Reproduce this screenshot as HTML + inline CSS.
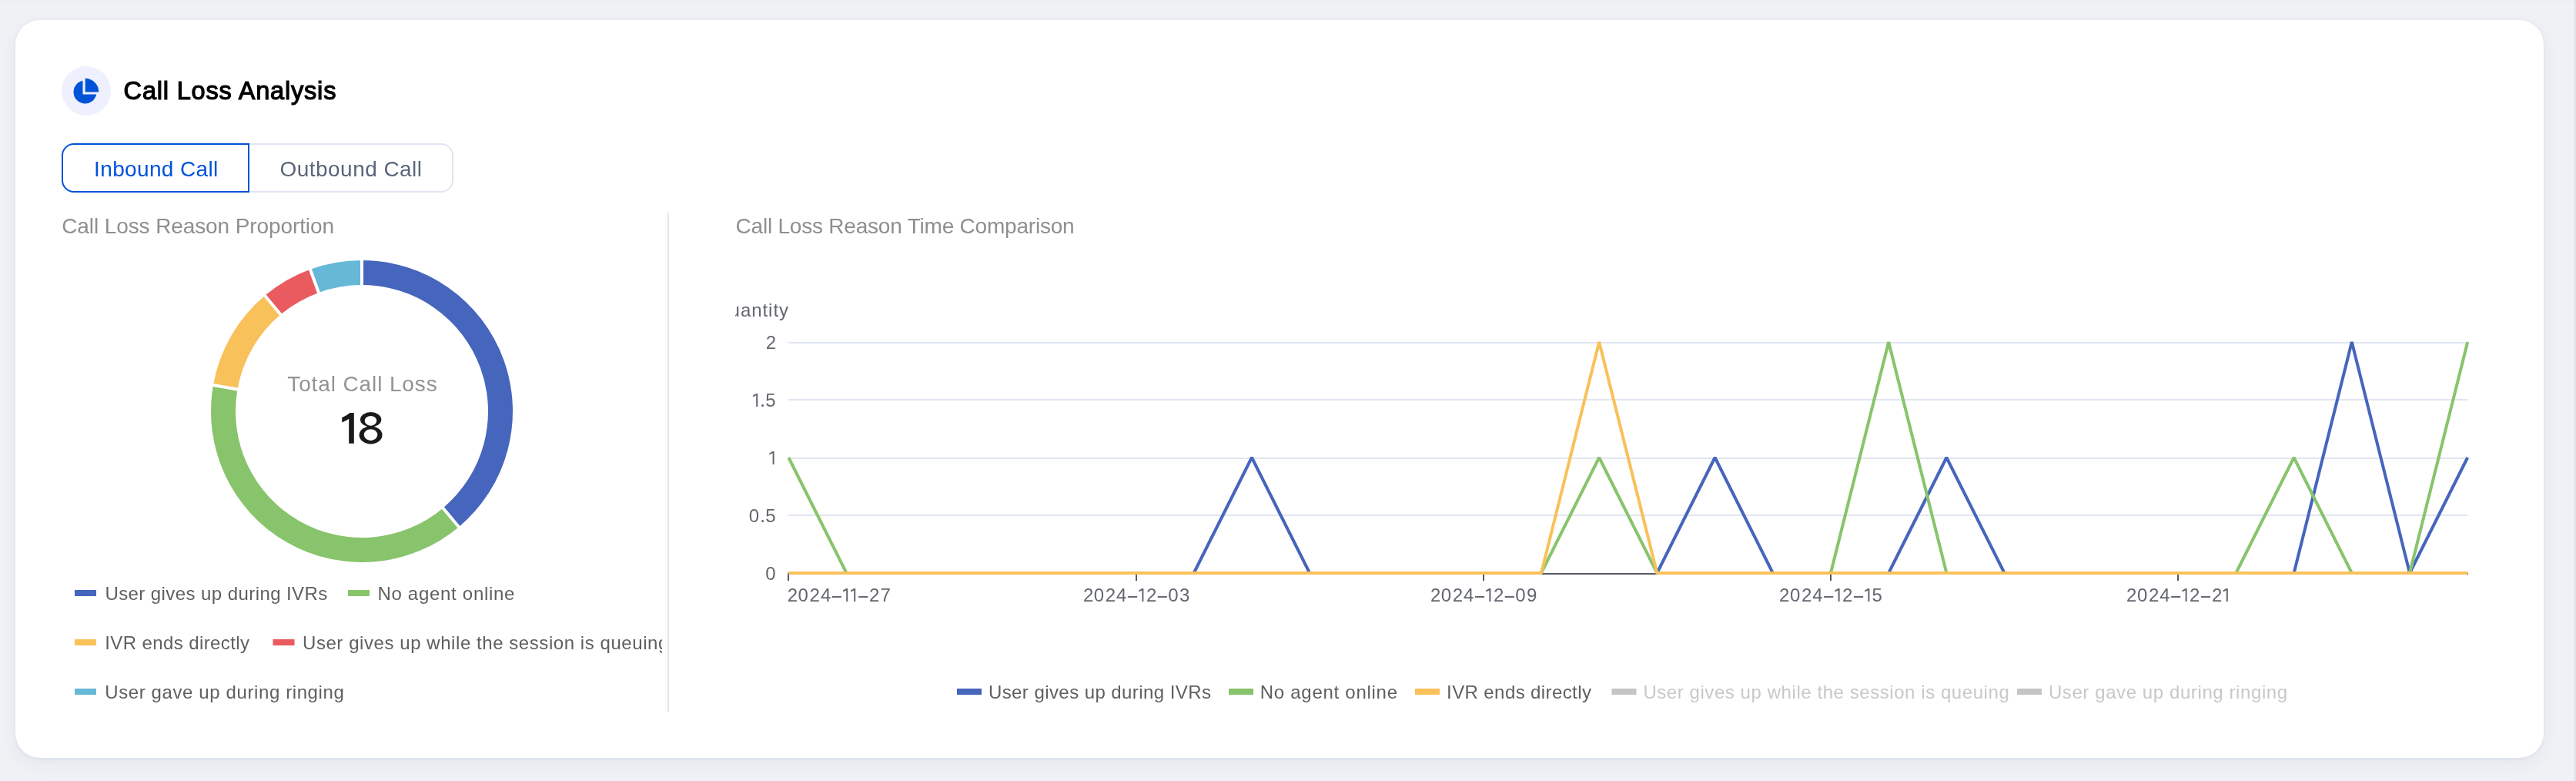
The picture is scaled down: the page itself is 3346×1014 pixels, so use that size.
<!DOCTYPE html>
<html><head><meta charset="utf-8"><title>Call Loss Analysis</title>
<style>
html,body{margin:0;padding:0;overflow:hidden;}
body{width:3346px;height:1014px;background:#eff1f5;position:relative;overflow:hidden;font-family:"Liberation Sans",sans-serif;}
.card{position:absolute;left:20px;top:26px;width:3284px;height:958px;background:#fff;border-radius:32px;box-shadow:0 1px 5px rgba(40,60,170,0.07),0 8px 24px rgba(30,50,120,0.05);}
.topband{position:absolute;left:0;top:0;width:3344px;height:2px;background:#edeff3;border-bottom:2px solid #eef0f4;}
.edge{position:absolute;left:3344px;top:0;width:2px;height:1014px;background:#dbe2ec;}
.tab{position:absolute;top:186px;height:64px;box-sizing:border-box;}
.tab1{left:80px;width:244px;border:2px solid #0052d9;border-radius:16px 0 0 16px;z-index:2;}
.tab2{left:322px;width:267px;border:2px solid #dfe5f1;border-radius:0 16px 16px 0;}
svg.main{position:absolute;left:0;top:0;will-change:transform;}
</style></head>
<body>
<div class="card"></div>
<div class="edge"></div>
<div class="topband"></div>
<div class="tab tab2"></div>
<div class="tab tab1"></div>
<svg class="main" width="3346" height="1014" viewBox="0 0 3346 1014" font-family="Liberation Sans, sans-serif">
<circle cx="112" cy="118" r="32" fill="#eef0fd"/>
<path d="M107.5,104.8 A15,15 0 1,0 125.2,122.5 L107.5,122.5 Z" fill="#0052d9"/>
<path d="M110.7,119.4 L110.7,101.8 A17.6,17.6 0 0,1 128.3,119.4 Z" fill="#0052d9"/>
<text x="160.60" y="129" font-size="32.5" fill="#000" textLength="275.82" lengthAdjust="spacing" stroke="#000" stroke-width="1.2">Call Loss Analysis</text>
<text x="122.10" y="229" font-size="28" fill="#0052d9" textLength="161.13" lengthAdjust="spacing">Inbound Call</text>
<text x="363.60" y="229" font-size="28" fill="#5b667a" textLength="184.42" lengthAdjust="spacing">Outbound Call</text>
<text x="80.20" y="303" font-size="28" fill="#8f8f8f" textLength="353.82" lengthAdjust="spacing">Call Loss Reason Proportion</text>
<text x="955.50" y="303" font-size="28" fill="#8f8f8f" textLength="440.14" lengthAdjust="spacing">Call Loss Reason Time Comparison</text>
<rect x="867" y="276" width="2" height="648" fill="#dfe5f0"/>
<g>
<path d="M470.00,338.00 A196,196 0 0,1 595.99,684.14 L575.42,659.63 A164,164 0 0,0 470.00,370.00 Z" fill="#4665bc"/>
<path d="M595.99,684.14 A196,196 0 0,1 276.98,499.96 L308.49,505.52 A164,164 0 0,0 575.42,659.63 Z" fill="#88c46c"/>
<path d="M276.98,499.96 A196,196 0 0,1 344.01,383.86 L364.58,408.37 A164,164 0 0,0 308.49,505.52 Z" fill="#f9c15a"/>
<path d="M344.01,383.86 A196,196 0 0,1 402.96,349.82 L413.91,379.89 A164,164 0 0,0 364.58,408.37 Z" fill="#ea5b60"/>
<path d="M402.96,349.82 A196,196 0 0,1 470.00,338.00 L470.00,370.00 A164,164 0 0,0 413.91,379.89 Z" fill="#67b8d7"/>
</g>
<g stroke="#fff" stroke-width="4">
<line x1="470.00" y1="373.00" x2="470.00" y2="335.00"/>
<line x1="573.49" y1="657.33" x2="597.91" y2="686.44"/>
<line x1="311.45" y1="506.04" x2="274.02" y2="499.44"/>
<line x1="366.51" y1="410.67" x2="342.09" y2="381.56"/>
<line x1="414.93" y1="382.71" x2="401.94" y2="347.00"/>
</g>
<text x="373.30" y="508.3" font-size="28" fill="#939393" textLength="194.39" lengthAdjust="spacing">Total Call Loss</text>
<g fill="#1a1a1a">
<path d="M453.2,575.8 L459.8,575.8 L459.8,536.1 L454.6,536.1 Q450,540 444.2,542.2 L444.2,548.6 Q449.5,546.5 453.2,543.8 Z"/>
<ellipse cx="481.65" cy="544.7" rx="13.65" ry="9.6"/>
<ellipse cx="481.55" cy="564.9" rx="14.95" ry="11.5"/>
<ellipse cx="481.5" cy="546.3" rx="7.7" ry="6.4" fill="#fff"/>
<ellipse cx="481.55" cy="564.6" rx="8.75" ry="7.4" fill="#fff"/>
</g>
<g font-size="24">
<rect x="97" y="766" width="28" height="8" fill="#4665bc"/>
<text x="136.40" y="778.8" font-size="24" fill="#5f5f5f" textLength="288.90" lengthAdjust="spacing">User gives up during IVRs</text>
<rect x="452" y="766" width="28" height="8" fill="#88c46c"/>
<text x="490.40" y="778.8" font-size="24" fill="#5f5f5f" textLength="178.04" lengthAdjust="spacing">No agent online</text>
<rect x="97" y="830" width="28" height="8" fill="#f9c15a"/>
<text x="136.20" y="842.8" font-size="24" fill="#5f5f5f" textLength="187.81" lengthAdjust="spacing">IVR ends directly</text>
<rect x="354.5" y="830" width="28" height="8" fill="#ea5b60"/>
<svg x="0" y="800" width="860" height="60" overflow="hidden"><g transform="translate(0,-800)"><text x="393.00" y="842.8" font-size="24" fill="#5f5f5f" textLength="475.35" lengthAdjust="spacing">User gives up while the session is queuing</text></g></svg>
<rect x="97" y="894" width="28" height="8" fill="#67b8d7"/>
<text x="136.20" y="906.8" font-size="24" fill="#5f5f5f" textLength="310.64" lengthAdjust="spacing">User gave up during ringing</text>
</g>
<g fill="#e0e6f1"><rect x="1024" y="444" width="2181" height="2"/><rect x="1024" y="518" width="2181" height="2"/><rect x="1024" y="594" width="2181" height="2"/><rect x="1024" y="668" width="2181" height="2"/></g>
<rect x="1024" y="744" width="2182" height="2" fill="#565a66"/>
<g fill="#565a66"><rect x="1023" y="744" width="2" height="10"/><rect x="1475" y="744" width="2" height="10"/><rect x="1926" y="744" width="2" height="10"/><rect x="2377" y="744" width="2" height="10"/><rect x="2828" y="744" width="2" height="10"/></g>
<g font-size="24" fill="#62666f"><text x="994.70" y="452.9">2</text><text x="994.20" y="527.9">5</text><path d="M982.20,510.90 L984.20,510.90 L984.20,527.90 L982.20,527.90 L982.20,513.30 L978.00,515.40 L978.00,513.40 Z"/><circle cx="990.60" cy="526.40" r="1.5"/><path d="M1003.60,585.90 L1005.60,585.90 L1005.60,602.90 L1003.60,602.90 L1003.60,588.30 L999.40,590.40 L999.40,588.40 Z"/><text x="972.80 994.20" y="677.9">05</text><circle cx="990.60" cy="676.40" r="1.5"/><text x="994.20" y="752.9">0</text></g>
<svg x="955" y="370" width="200" height="60" overflow="hidden"><text x="69" y="40.8" font-size="24" fill="#62666f" text-anchor="end" textLength="96" lengthAdjust="spacing">Quantity</text></svg>
<g font-size="24" fill="#62666f"><text x="1022.70 1036.60 1051.50 1065.90 1129.10 1143.50" y="781">202427</text><rect x="1080.70" y="774" width="12.2" height="1.9"/><path d="M1099.20,764.00 L1101.20,764.00 L1101.20,781.00 L1099.20,781.00 L1099.20,766.40 L1095.00,768.50 L1095.00,766.50 Z"/><path d="M1109.20,764.00 L1111.20,764.00 L1111.20,781.00 L1109.20,781.00 L1109.20,766.40 L1105.00,768.50 L1105.00,766.50 Z"/><rect x="1115.10" y="774" width="12.2" height="1.9"/><text x="1406.90 1420.80 1435.70 1450.10 1488.90 1517.20 1532.10" y="781">2024203</text><rect x="1464.90" y="774" width="12.2" height="1.9"/><path d="M1483.40,764.00 L1485.40,764.00 L1485.40,781.00 L1483.40,781.00 L1483.40,766.40 L1479.20,768.50 L1479.20,766.50 Z"/><rect x="1503.70" y="774" width="12.2" height="1.9"/><text x="1857.90 1871.80 1886.70 1901.10 1939.90 1968.20 1983.10" y="781">2024209</text><rect x="1915.90" y="774" width="12.2" height="1.9"/><path d="M1934.40,764.00 L1936.40,764.00 L1936.40,781.00 L1934.40,781.00 L1934.40,766.40 L1930.20,768.50 L1930.20,766.50 Z"/><rect x="1954.70" y="774" width="12.2" height="1.9"/><text x="2311.10 2325.00 2339.90 2354.30 2393.10 2431.40" y="781">202425</text><rect x="2369.10" y="774" width="12.2" height="1.9"/><path d="M2387.60,764.00 L2389.60,764.00 L2389.60,781.00 L2387.60,781.00 L2387.60,766.40 L2383.40,768.50 L2383.40,766.50 Z"/><rect x="2407.90" y="774" width="12.2" height="1.9"/><path d="M2426.40,764.00 L2428.40,764.00 L2428.40,781.00 L2426.40,781.00 L2426.40,766.40 L2422.20,768.50 L2422.20,766.50 Z"/><text x="2762.10 2776.00 2790.90 2805.30 2844.10 2872.90" y="781">202422</text><rect x="2820.10" y="774" width="12.2" height="1.9"/><path d="M2838.60,764.00 L2840.60,764.00 L2840.60,781.00 L2838.60,781.00 L2838.60,766.40 L2834.40,768.50 L2834.40,766.50 Z"/><rect x="2858.90" y="774" width="12.2" height="1.9"/><path d="M2891.80,764.00 L2893.80,764.00 L2893.80,781.00 L2891.80,781.00 L2891.80,766.40 L2887.60,768.50 L2887.60,766.50 Z"/></g>
<g fill="none" stroke-width="4" stroke-linejoin="bevel">
<polyline stroke="#4665bc" points="1024.30,744.00 1099.50,744.00 1174.71,744.00 1249.91,744.00 1325.11,744.00 1400.32,744.00 1475.52,744.00 1550.72,744.00 1625.93,594.00 1701.13,744.00 1776.33,744.00 1851.54,744.00 1926.74,744.00 2001.94,744.00"/>
<polyline stroke="#4665bc" points="2152.35,744.00 2227.56,594.00 2302.76,744.00 2377.96,744.00 2453.17,744.00 2528.37,594.00 2603.57,744.00 2678.78,744.00 2753.98,744.00 2829.18,744.00 2904.39,744.00 2979.59,744.00 3054.79,444.00 3130.00,744.00 3205.20,594.00"/>
<polyline stroke="#88c46c" points="1024.30,594.00 1099.50,744.00 1174.71,744.00 1249.91,744.00 1325.11,744.00 1400.32,744.00 1475.52,744.00 1550.72,744.00 1625.93,744.00 1701.13,744.00 1776.33,744.00 1851.54,744.00 1926.74,744.00 2001.94,744.00 2077.15,594.00 2152.35,744.00 2227.56,744.00 2302.76,744.00 2377.96,744.00 2453.17,444.00 2528.37,744.00 2603.57,744.00 2678.78,744.00 2753.98,744.00 2829.18,744.00 2904.39,744.00 2979.59,594.00 3054.79,744.00 3130.00,744.00 3205.20,444.00"/>
<polyline stroke="#f9c15a" points="1024.30,744.00 1099.50,744.00 1174.71,744.00 1249.91,744.00 1325.11,744.00 1400.32,744.00 1475.52,744.00 1550.72,744.00 1625.93,744.00 1701.13,744.00 1776.33,744.00 1851.54,744.00 1926.74,744.00 2001.94,744.00 2077.15,444.00 2152.35,744.00 2227.56,744.00 2302.76,744.00 2377.96,744.00 2453.17,744.00 2528.37,744.00 2603.57,744.00 2678.78,744.00 2753.98,744.00 2829.18,744.00 2904.39,744.00 2979.59,744.00 3054.79,744.00 3130.00,744.00 3205.20,744.00"/>
</g>
<rect x="1243" y="894" width="32" height="8" fill="#4665bc"/>
<text x="1283.90" y="906.8" font-size="24" fill="#5f5f5f" textLength="289.10" lengthAdjust="spacing">User gives up during IVRs</text>
<rect x="1596" y="894" width="32" height="8" fill="#88c46c"/>
<text x="1636.70" y="906.8" font-size="24" fill="#5f5f5f" textLength="178.34" lengthAdjust="spacing">No agent online</text>
<rect x="1838" y="894" width="32" height="8" fill="#f9c15a"/>
<text x="1879.10" y="906.8" font-size="24" fill="#5f5f5f" textLength="187.81" lengthAdjust="spacing">IVR ends directly</text>
<rect x="2093.5" y="894" width="32" height="8" fill="#c5c5c5"/>
<text x="2134.40" y="906.8" font-size="24" fill="#c8c8c8" textLength="475.35" lengthAdjust="spacing">User gives up while the session is queuing</text>
<rect x="2620" y="894" width="32" height="8" fill="#c5c5c5"/>
<text x="2660.90" y="906.8" font-size="24" fill="#c8c8c8" textLength="310.24" lengthAdjust="spacing">User gave up during ringing</text>
</svg>
</body></html>
